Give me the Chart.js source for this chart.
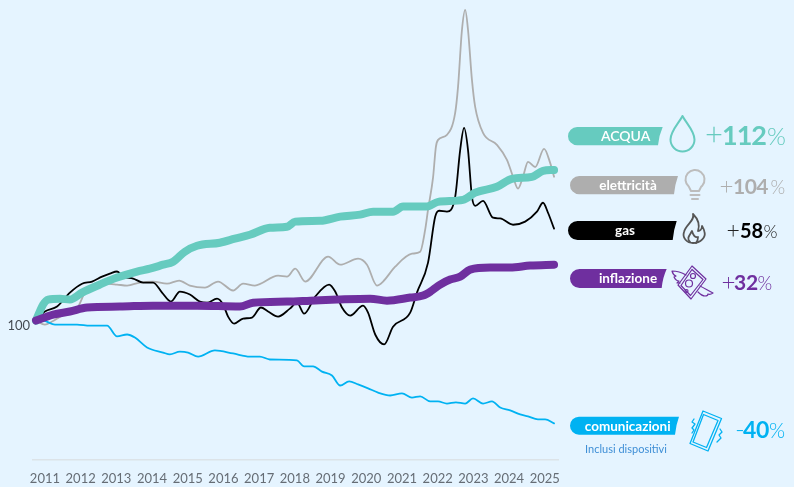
<!DOCTYPE html>
<html><head><meta charset="utf-8">
<script src="https://cdn.jsdelivr.net/npm/chart.js@4"></script>
<style>html,body{margin:0;padding:0;background:#e5f4ff}canvas{display:block}</style>
</head><body><canvas id="c" width="794" height="487"></canvas>
<script>
const yearLabels=[2011,2012,2013,2014,2015,2016,2017,2018,2019,2020,2021,2022,2023,2024,2025];
const acquaT=[2011,2011.2,2011.34,2011.67,2011.95,2012.29,2012.79,2013.27,2013.83,2014.19,2014.56,2014.84,2015.17,2015.51,2016.15,2016.57,2016.99,2017.55,2018.03,2018.26,2018.96,2019.52,2020.08,2020.44,2021,2021.28,2021.95,2022.26,2022.96,2023.3,2023.91,2024.33,2024.89,2025.2,2025.51];
const acquaV=[100,108.3,111,111.5,111,114.9,119.6,123.8,127.6,129.4,132,134,140.8,145,147.2,150.2,153.2,158.6,159.4,163.5,164.2,167.6,169.3,171.8,171.8,176.2,176.2,180.4,182.2,188.8,194.4,202.3,204.3,210.4,211.4];
const inflT=[2011,2011.48,2011.95,2012.43,2013.35,2014.28,2015.51,2016.71,2017.08,2018.03,2018.68,2019.43,2020.36,2020.83,2021.48,2021.84,2022.09,2022.32,2022.6,2022.88,2023.16,2023.72,2024.28,2024.84,2025.51];
const inflV=[100,103,104.6,106.7,107.2,107.7,107.7,107.2,109.3,109.9,110.4,111,111.5,110.4,112.1,113.2,116.1,119.6,122.6,124.4,128.8,130.1,130.1,131.4,132];
const comT=[2011,2011.2,2011.53,2012.15,2012.51,2012.99,2013.27,2013.55,2013.77,2014.11,2014.56,2014.75,2015.03,2015.26,2015.54,2016.01,2016.52,2016.99,2017.27,2017.55,2018.31,2018.51,2018.76,2019.01,2019.29,2019.52,2019.77,2020.02,2020.3,2020.58,2020.92,2021.25,2021.53,2021.76,2022.04,2022.26,2022.51,2022.76,2023.02,2023.24,2023.52,2023.77,2024,2024.28,2024.56,2024.78,2025.06,2025.26,2025.51];
const comV=[100,100,98,98,97.5,97.5,92.4,93.3,91.9,87.5,85.3,84.5,85.7,85.3,83.6,86.2,84.9,83.6,83.6,82.4,82,79.6,79.6,77.6,76.1,72.4,73.9,72.8,71.4,69.9,68.9,69.6,68.2,68.6,66.9,66.9,66.2,66.6,66.2,67.9,66.2,66.9,64.9,64,62.7,62.1,61.2,61.2,60];
const gasT=[2011,2011.25,2011.59,2011.95,2012.29,2012.57,2012.85,2013.07,2013.27,2013.44,2013.72,2014,2014.28,2014.53,2014.78,2015.03,2015.31,2015.59,2015.79,2016.07,2016.24,2016.38,2016.55,2016.8,2017.05,2017.3,2017.5,2017.78,2018.11,2018.31,2018.51,2018.82,2019.21,2019.38,2019.57,2019.8,2020.16,2020.3,2020.5,2020.75,2021,2021.48,2021.67,2021.98,2022.18,2022.29,2022.51,2022.74,2022.88,2022.99,2023.1,2023.21,2023.3,2023.52,2023.8,2024,2024.36,2024.7,2025.03,2025.2,2025.34,2025.51];
const gasV=[100,104.6,107.2,114.9,120.1,121.4,124.4,126.3,127.6,124.4,123.2,120.8,120.8,114.9,109.9,115.5,113.8,109.9,109.3,111.5,108.3,102,98.5,101,101.5,106.7,104.6,102,106.1,109.3,103.5,112.6,119.6,115.5,106.7,102.5,107.7,104,93.3,88.8,97,104,114.9,133.4,167.6,172.6,171.8,184.9,233.4,260.5,233.4,184.9,176.9,181.3,166.7,166.1,161,163.5,171.8,179.6,170.9,157.9];
const eleT=[2011,2011.25,2011.45,2011.73,2011.95,2012.18,2012.37,2012.57,2012.93,2013.27,2013.55,2013.91,2014.28,2014.67,2015.01,2015.31,2015.73,2016.1,2016.52,2016.8,2017.13,2017.78,2018.03,2018.26,2018.54,2019.18,2019.52,2020.02,2020.27,2020.55,2020.72,2021.06,2021.53,2021.76,2021.9,2021.98,2022.12,2022.2,2022.26,2022.51,2022.74,2022.82,2022.93,2023.02,2023.1,2023.21,2023.3,2023.52,2023.91,2024.19,2024.36,2024.5,2024.64,2024.78,2024.98,2025.23,2025.4,2025.51];
const eleV=[100,98,99.5,102.5,104,107.2,114.9,119,120.1,119.6,119,120.8,121.4,120.1,122,119,117.8,121.4,116.1,120.1,119,125,124.4,129.4,121.4,137.4,132,136,132,119,121.4,130.7,139.4,140.8,157.1,173.5,203.4,237.2,245.5,251.7,280.7,319.4,423.8,468.4,423.8,330.7,289.2,254.2,239.5,222.3,204.4,192.6,204.4,220.1,214.5,234.8,219,204.4];

const FONT='Lato, "Open Sans", sans-serif';
const TEAL='#66cbbf',GREY='#aeaeae',PURPLE='#6f2f9f',BLUE='#00b2f2',BLACK='#000000';
const zip=(t,v)=>t.map((x,i)=>({x,y:v[i]}));
const line=(label,t,v,color,w)=>({label,data:zip(t,v),borderColor:color,borderWidth:w,pointRadius:0,cubicInterpolationMode:'monotone',borderCapStyle:'round',borderJoinStyle:'round',fill:false,clip:false});

function pill(c,x,y,xr,xb,h,color,text,tx,font){
  c.fillStyle=color;c.beginPath();c.moveTo(x+h/2,y);c.lineTo(xr,y);
  c.quadraticCurveTo(xb+1,y+h*0.45,xb,y+h);c.lineTo(x+h/2,y+h);
  c.arc(x+h/2,y+h/2,h/2,Math.PI/2,Math.PI*1.5);c.closePath();c.fill();
  c.fillStyle='#fff';c.font=font;c.textAlign='center';c.textBaseline='middle';c.fillText(text,tx,y+h/2+0.5);
}
function pct(c,color,lightColor,base,size,px,nx,qx,num,sign,spacing){
  c.textAlign='left';c.textBaseline='alphabetic';
  c.fillStyle=lightColor;c.font='300 '+(size*1.15)+'px '+FONT;c.fillText(sign,px,base);
  c.fillStyle=color;c.font='bold '+size+'px '+FONT;c.letterSpacing=spacing+'px';c.fillText(num,nx,base);c.letterSpacing='0px';
  c.fillStyle=lightColor;c.font='300 '+(size*0.9)+'px '+FONT;c.fillText('%',qx,base);
}
function icons(c){
  c.lineCap='round';c.lineJoin='round';
  // drop
  c.strokeStyle=TEAL;c.lineWidth=2;c.beginPath();c.moveTo(682.5,116);
  c.bezierCurveTo(679,123,670.5,131,670.5,139.5);c.arc(682.5,139.5,12,Math.PI,0,true);
  c.bezierCurveTo(694.5,131,686,123,682.5,116);c.closePath();c.stroke();
  // bulb
  c.strokeStyle='#bdbdbd';c.lineWidth=2;c.beginPath();c.arc(695,179.5,9.5,Math.PI*0.72,Math.PI*0.28);
  c.lineTo(699,191);c.lineTo(691,191);c.closePath();c.stroke();
  c.beginPath();c.moveTo(690.5,195);c.lineTo(699.5,195);c.moveTo(692,199);c.lineTo(698,199);c.stroke();
  // flame
  c.strokeStyle='#555';c.lineWidth=1.8;c.beginPath();c.moveTo(693,214);
  c.bezierCurveTo(695,221,686,224,684,232);c.bezierCurveTo(682,238,687,243,693,243);
  c.bezierCurveTo(701,243,706,237,704.5,232);c.bezierCurveTo(704,229,703,228,702,226);
  c.bezierCurveTo(702,229,700,231,698,231);c.bezierCurveTo(700,225,698,219,693,214);c.closePath();c.stroke();
  c.beginPath();c.moveTo(690,242);c.bezierCurveTo(686,238,690,235,692,231);c.bezierCurveTo(693,235,695,238,698,237);c.bezierCurveTo(698,239,698,241,696,243);c.stroke();
  // money with wings
  c.strokeStyle=PURPLE;c.lineWidth=1.2;c.beginPath();
  c.moveTo(692,266);c.lineTo(706,279);c.lineTo(691,299);c.lineTo(678,285);c.closePath();c.stroke();
  c.beginPath();c.moveTo(692,269.5);c.lineTo(703,279.5);c.lineTo(690.5,295.5);c.lineTo(681,285.5);c.closePath();c.stroke();
  c.beginPath();c.arc(693,276,2.5,0,7);c.moveTo(692.5,283.5);c.arc(689,283.5,3.5,0,7);c.moveTo(688,291);c.arc(686.5,291,1.5,0,7);c.stroke();
  c.beginPath();c.moveTo(686,275);c.bezierCurveTo(681,272,677,271,672,271);c.quadraticCurveTo(673,275,676,276);c.lineTo(674,277);c.quadraticCurveTo(676,281,679,281);c.lineTo(677,283);c.lineTo(680,283);c.stroke();
  c.beginPath();c.moveTo(700,286);c.bezierCurveTo(704,288,709,291,713,293);c.quadraticCurveTo(710,295,708,294);c.quadraticCurveTo(708,296,705,296);c.quadraticCurveTo(702,296,698,292);c.stroke();
  // phone
  c.strokeStyle=BLUE;c.lineWidth=1.3;c.beginPath();c.moveTo(703,411);c.lineTo(721.5,418.5);c.lineTo(708,451);c.lineTo(690,443.5);c.closePath();c.stroke();
  c.beginPath();c.moveTo(703.5,414.5);c.lineTo(718,420.5);c.lineTo(706.5,447.5);c.lineTo(693,442);c.closePath();c.stroke();
  c.beginPath();c.moveTo(694,419);c.lineTo(692,422);c.lineTo(695,424);c.lineTo(692,428);c.lineTo(694,430);c.lineTo(692,433);
  c.moveTo(720,429);c.lineTo(722,432);c.lineTo(719,435);c.lineTo(721,438);c.lineTo(717,442);c.stroke();
}
const annotations={id:'annotations',afterDraw(ch){
  const c=ch.ctx;c.save();
  c.fillStyle='#444b52';c.font='13px '+FONT;c.textAlign='right';c.textBaseline='middle';
  c.fillText('100',30,ch.scales.y.getPixelForValue(100)+5);
  const f='bold 13.5px '+FONT;
  pill(c,568,127,662.7,658,18.3,TEAL,'ACQUA',625.6,'600 14px '+FONT);
  pill(c,570,176,678,674,18.3,GREY,'elettricità',628,f);
  pill(c,568,221,676.7,672.7,19,BLACK,'gas',625,f);
  pill(c,570,269,666.7,661.7,19,PURPLE,'inflazione',628,f);
  pill(c,570,416.7,679,675,18,BLUE,'comunicazioni',627.7,f);
  c.fillStyle='#3f8fd6';c.font='11px '+FONT;c.textAlign='center';c.textBaseline='middle';c.fillText('Inclusi dispositivi',626,449);
  pct(c,TEAL,TEAL,145,27,705,722,767,'112','+',-1);
  pct(c,GREY,GREY,194,21,719.5,733,770.5,'104','+',-0.5);
  pct(c,BLACK,'#222',237.5,20,726.5,740,763.5,'58','+',0);
  pct(c,PURPLE,PURPLE,290,21,721.5,734,757.5,'32','+',-0.3);
  pct(c,BLUE,BLUE,437.5,23,735,743,769,'40','-',-0.3);
  icons(c);c.restore();
}};
new Chart(document.getElementById('c'),{
  type:'line',
  data:{datasets:[
    line('inflazione',inflT,inflV,PURPLE,8),
    line('acqua',acquaT,acquaV,TEAL,8),
    line('gas',gasT,gasV,BLACK,1.8),
    line('comunicazioni',comT,comV,BLUE,1.8),
    line('elettricità',eleT,eleV,GREY,1.8)
  ]},
  options:{responsive:false,animation:false,devicePixelRatio:1,
    layout:{padding:{left:33,right:236,top:0,bottom:0}},
    plugins:{legend:{display:false},tooltip:{enabled:false}},
    scales:{
      x:{type:'linear',min:2010.916,max:2025.62,
        afterFit(s){s.height=27;},
        afterBuildTicks(s){s.ticks=yearLabels.map(y=>({value:y+0.25}));},
        grid:{display:false},border:{display:true,color:'#dce3e8',width:1.5},
        ticks:{autoSkip:false,maxRotation:0,padding:3,color:'#666d75',font:{family:FONT,size:13},callback:v=>String(Math.floor(v))}},
      y:{type:'logarithmic',display:false,min:50,max:492}
    }
  },
  plugins:[annotations]
});
</script></body></html>
